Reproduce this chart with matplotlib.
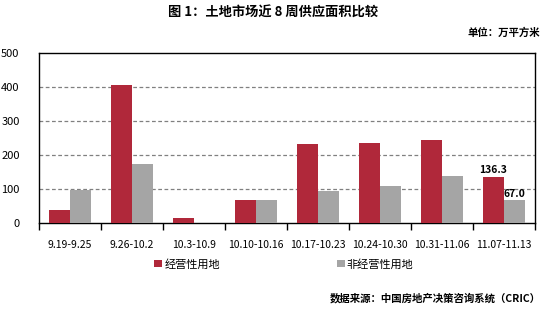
import numpy as np
import matplotlib
matplotlib.use("Agg")
import matplotlib.pyplot as plt

plt.rcParams["font.family"] = ["Noto Sans CJK SC", "DejaVu Sans"]

# ── Data ─────────────────────────────────────────────────────────────────────
weeks = ["9.19-9.25", "9.26-10.2", "10.3-10.9", "10.10-10.16",
         "10.17-10.23", "10.24-10.30", "10.31-11.06", "11.07-11.13"]
operating = [38, 406, 15, 68, 232, 235, 244, 136.3]
non_operating = [97, 174, 0, 68, 95, 109, 139, 67.0]
series_names = ["经营性用地", "非经营性用地"]

RED = "#B0283A"
GREY = "#A5A5A5"

# ── Figure ───────────────────────────────────────────────────────────────────
fig = plt.figure(figsize=(5.46, 3.11), dpi=100)
ax = fig.add_axes([39 / 546, 1 - 223 / 311, (535 - 39) / 546, (223 - 53) / 311])

x = np.arange(len(weeks))
w = 0.34
b1 = ax.bar(x - w / 2, operating, w, color=RED, label=series_names[0], zorder=3)
b2 = ax.bar(x + w / 2, non_operating, w, color=GREY, label=series_names[1], zorder=3)

ax.set_xlim(-0.5, len(weeks) - 0.5)
ax.set_ylim(0, 500)
ax.set_yticks(range(0, 501, 100))
ax.set_xticks(np.arange(-0.5, len(weeks)), minor=False)
ax.set_xticklabels([])
ax.set_xticks(x, minor=True)
ax.set_xticklabels(weeks, minor=True, fontsize=7.5)
ax.tick_params(axis="x", which="minor", length=0, pad=12)
ax.tick_params(axis="x", which="major", length=5, width=1, direction="out")
ax.tick_params(axis="y", length=0, pad=14, labelsize=8)

for gy in range(100, 500, 100):
    ax.axhline(gy, color="#808080", linestyle=(0, (3, 2)), linewidth=0.9, zorder=1)

for s in ax.spines.values():
    s.set_linewidth(1)
    s.set_color("black")

# data labels on the last week
ax.text(x[-1] - w / 2, operating[-1] + 5, f"{operating[-1]:.1f}",
        ha="center", va="bottom", fontsize=7.5, fontweight="bold")
ax.text(x[-1] + w / 2, non_operating[-1] + 5, f"{non_operating[-1]:.1f}",
        ha="center", va="bottom", fontsize=7.5, fontweight="bold")

fig.legend(handles=[b1, b2], loc="center", bbox_to_anchor=(284 / 546, 1 - 264 / 311),
           ncol=2, frameon=False, fontsize=8, handlelength=0.7, handleheight=0.7,
           handletextpad=0.2, columnspacing=10.5)

fig.text(0.5, 1 - 13 / 311, "图 1：土地市场近 8 周供应面积比较",
         ha="center", va="center", fontsize=9.5, fontweight="bold")
fig.text(540 / 546, 1 - 33 / 311, "单位：万平方米",
         ha="right", va="center", fontsize=7.5, fontweight="bold")
fig.text(541 / 546, 1 - 298 / 311, "数据来源：中国房地产决策咨询系统（CRIC）",
         ha="right", va="center", fontsize=7.5, fontweight="bold")

fig.savefig("out.png", dpi=100)
